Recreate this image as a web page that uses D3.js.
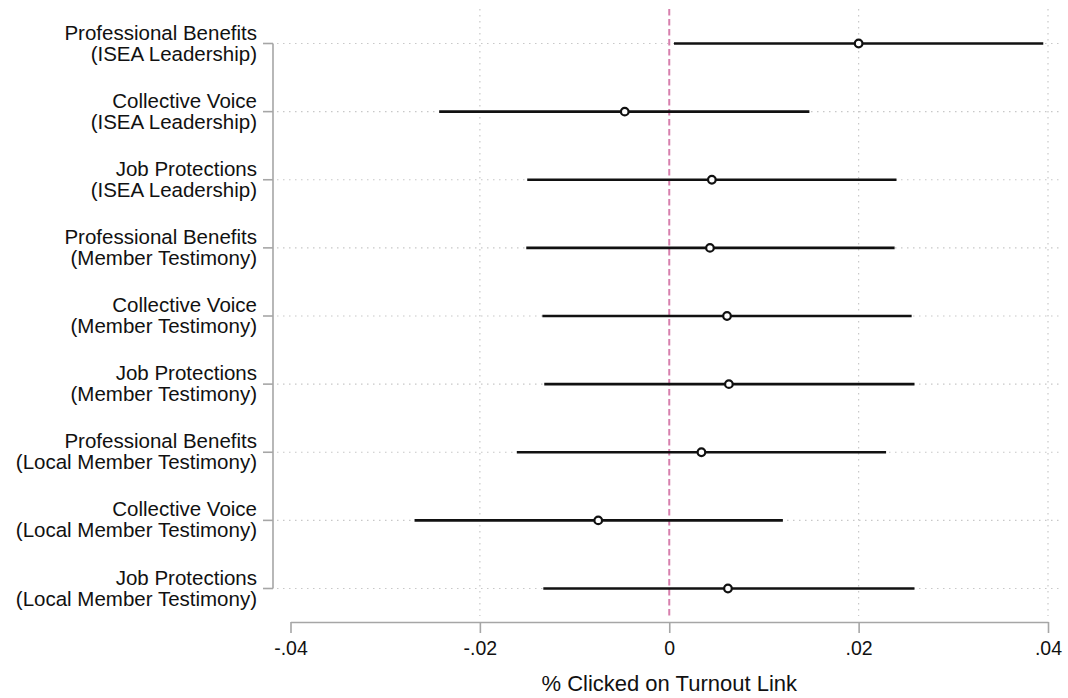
<!DOCTYPE html>
<html>
<head>
<meta charset="utf-8">
<script src="https://cdn.jsdelivr.net/npm/d3@7"></script>
<style>
  html, body { margin: 0; padding: 0; background: #fff; }
  svg { display: block; font-family: "Liberation Sans", Arial, Helvetica, sans-serif; }
</style>
</head>
<body>
<svg id="chart" width="1068" height="698"></svg>
<script>
// ---- data ----
const labelLine1 = ["Professional Benefits", "Collective Voice", "Job Protections",
                    "Professional Benefits", "Collective Voice", "Job Protections",
                    "Professional Benefits", "Collective Voice", "Job Protections"];
const labelLine2 = ["(ISEA Leadership)", "(ISEA Leadership)", "(ISEA Leadership)",
                    "(Member Testimony)", "(Member Testimony)", "(Member Testimony)",
                    "(Local Member Testimony)", "(Local Member Testimony)", "(Local Member Testimony)"];
const estimates = [0.0200, -0.0047, 0.0045, 0.0043, 0.0061, 0.0063, 0.0034, -0.0075, 0.0062];
const ciLow     = [0.0005, -0.0243, -0.0150, -0.0151, -0.0134, -0.0132, -0.0161, -0.0269, -0.0133];
const ciHigh    = [0.0395, 0.0148, 0.0240, 0.0238, 0.0256, 0.0259, 0.0229, 0.0120, 0.0259];
const xTicks = [-0.04, -0.02, 0, 0.02, 0.04];
const xTickLabels = ["-.04", "-.02", "0", ".02", ".04"];
const xGrid = [-0.02, 0.02, 0.04];
const xTitle = "% Clicked on Turnout Link";

// ---- layout ----
const svg = d3.select("#chart");
const x = d3.scaleLinear().domain([-0.04, 0.04]).range([290.5, 1048]);
const rowIdx = d3.range(labelLine1.length);
const y = d3.scalePoint().domain(rowIdx).range([43.5, 588.5]);
const axisX = 273, axisY = 622;
const plotTop = 9, plotBottom = 616, plotRight = 1062;

// horizontal dotted gridlines
svg.append("g").selectAll("line").data(rowIdx).join("line")
  .attr("x1", axisX + 4).attr("x2", plotRight)
  .attr("y1", d => y(d)).attr("y2", d => y(d))
  .attr("stroke", "#c8c8c8").attr("stroke-width", 1.2)
  .attr("stroke-dasharray", "1.5,4.5");

// vertical dotted gridlines
svg.append("g").selectAll("line").data(xGrid).join("line")
  .attr("x1", d => x(d)).attr("x2", d => x(d))
  .attr("y1", plotTop).attr("y2", plotBottom)
  .attr("stroke", "#c8c8c8").attr("stroke-width", 1.2)
  .attr("stroke-dasharray", "1.5,4.5");

// zero reference line
svg.append("line")
  .attr("x1", x(0)).attr("x2", x(0))
  .attr("y1", plotTop).attr("y2", plotBottom)
  .attr("stroke", "#d77fad").attr("stroke-width", 2)
  .attr("stroke-dasharray", "6.5,3.5");

// y axis
svg.append("line")
  .attr("x1", axisX).attr("x2", axisX)
  .attr("y1", y(0)).attr("y2", y(rowIdx.length - 1))
  .attr("stroke", "#a6a6a6").attr("stroke-width", 1.6);
svg.append("g").selectAll("line").data(rowIdx).join("line")
  .attr("x1", axisX - 10).attr("x2", axisX)
  .attr("y1", d => y(d)).attr("y2", d => y(d))
  .attr("stroke", "#a6a6a6").attr("stroke-width", 1.6);

const labels = svg.append("g").attr("font-size", "20.5px").attr("fill", "#111").attr("text-anchor", "end");
labels.selectAll("text.l1").data(rowIdx).join("text").attr("class", "l1")
  .attr("x", 257).attr("y", d => y(d) - 4).text(d => labelLine1[d]);
labels.selectAll("text.l2").data(rowIdx).join("text").attr("class", "l2")
  .attr("x", 257).attr("y", d => y(d) + 17).text(d => labelLine2[d]);

// x axis
const xAxis = d3.axisBottom(x).tickValues(xTicks)
  .tickFormat((d, i) => xTickLabels[i]).tickSize(11).tickSizeOuter(0).tickPadding(8);
const gx = svg.append("g").attr("transform", `translate(0,${axisY})`).call(xAxis);
gx.select(".domain").attr("stroke", "#a6a6a6").attr("stroke-width", 1.6);
gx.selectAll(".tick line").attr("stroke", "#a6a6a6").attr("stroke-width", 1.6);
gx.selectAll(".tick text").attr("font-size", "19.5px").attr("fill", "#111")
  .attr("font-family", "Liberation Sans, Arial, sans-serif");

svg.append("text")
  .attr("x", x(0)).attr("y", 691)
  .attr("text-anchor", "middle").attr("font-size", "22px").attr("fill", "#111")
  .text(xTitle);

// CI lines
svg.append("g").selectAll("line").data(rowIdx).join("line")
  .attr("x1", d => x(ciLow[d])).attr("x2", d => x(ciHigh[d]))
  .attr("y1", d => y(d)).attr("y2", d => y(d))
  .attr("stroke", "#111").attr("stroke-width", 2.6);

// point estimates
svg.append("g").selectAll("circle").data(rowIdx).join("circle")
  .attr("cx", d => x(estimates[d])).attr("cy", d => y(d)).attr("r", 3.8)
  .attr("fill", "#fff").attr("stroke", "#111").attr("stroke-width", 2.2);
</script>
</body>
</html>
